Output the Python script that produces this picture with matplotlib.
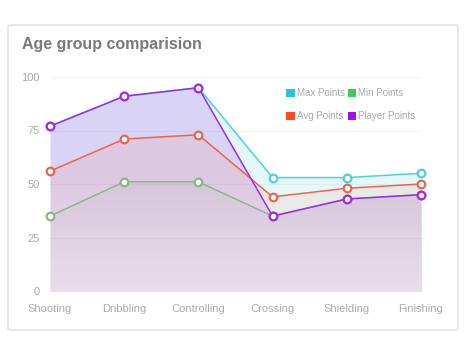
import numpy as np
import matplotlib.pyplot as plt
from matplotlib.patches import FancyBboxPatch, Patch

plt.rcParams['font.family'] = ['Liberation Sans', 'DejaVu Sans']

skills = ['Shooting', 'Dribbling', 'Controlling', 'Crossing', 'Shielding', 'Finishing']
max_points = [77, 91, 95, 53, 53, 55]
min_points = [35, 51, 51, 35, 43, 45]
avg_points = [56, 71, 73, 44, 48, 50]
player_points = [77, 91, 95, 35, 43, 45]
yticks = [0, 25, 50, 75, 100]

# name, values, line colour, legend colour, fill colour, fill alpha
series = [
    ('Max Points', max_points, '#4fd0e0', '#26c6da', '#4dd0e1', 0.15),
    ('Min Points', min_points, '#8fb48c', '#3ccf4e', '#96aa96', 0.10),
    ('Avg Points', avg_points, '#f0634a', '#ff4a1c', '#ff825a', 0.13),
    ('Player Points', player_points, '#9a2ee8', '#a010f0', '#c080f0', 0.30),
]
draw_order = [0, 3, 2, 1]

fig = plt.figure(figsize=(4.66, 3.55), dpi=100)
fig.patch.set_facecolor('white')

# card border
card = FancyBboxPatch((8 / 466, 1 - 330 / 355), 450 / 466, 305 / 355,
                      boxstyle='round,pad=0,rounding_size=0.005',
                      transform=fig.transFigure, facecolor='white',
                      edgecolor='#dddddd', linewidth=1, zorder=-5)
fig.patches.append(card)

fig.text(22 / 466, 1 - 44 / 355, 'Age group comparision', fontsize=11.5,
         fontweight='bold', color='#7a7a7a', va='center', ha='left')

ax = fig.add_axes([50 / 466, 1 - 291 / 355, 371 / 466, 214 / 355])
ax.set_facecolor('none')
x = list(range(len(skills)))

for i in draw_order:
    name, vals, line_c, _, fc, a = series[i]
    ax.fill_between(x, vals, 0, color=fc, alpha=a, linewidth=0, zorder=1)

# soft fade toward the bottom
grad = np.linspace(0, 1, 100).reshape(-1, 1)
fade = np.zeros((100, 1, 4))
fade[..., :3] = 1.0
fade[..., 3] = np.clip((55 - grad * 100) / 55, 0, 1) * 0.45
ax.imshow(fade, extent=(0, 5, 0, 100), origin='lower', aspect='auto',
          zorder=2, interpolation='bilinear')

for yt in yticks[1:]:
    ax.axhline(yt, color='black', alpha=0.045, linewidth=0.8, zorder=2.5)

for name, vals, line_c, _, _, _ in series:
    ax.plot(x, vals, color=line_c, linewidth=1.1, zorder=3,
            marker='o', markersize=5.5, markerfacecolor='white',
            markeredgecolor=line_c, markeredgewidth=1.6, clip_on=False)

ax.set_xlim(0, 5)
ax.set_ylim(0, 100)
ax.set_yticks(yticks)
ax.set_xticks(x)
ax.set_xticklabels(skills)
for s in ['top', 'right', 'left']:
    ax.spines[s].set_visible(False)
ax.spines['bottom'].set_color('#e6e6e6')
ax.tick_params(length=0, colors='#ababab', labelsize=8)
ax.tick_params(axis='x', pad=9)
ax.tick_params(axis='y', pad=7.5)

handles = [Patch(facecolor=s[3], edgecolor='none') for s in series]
labels = [s[0] for s in series]
order = [0, 2, 1, 3]
leg = ax.legend([handles[i] for i in order], [labels[i] for i in order],
                ncol=2, loc='upper left', bbox_to_anchor=(232 / 371, 0.965),
                frameon=False, fontsize=7, handlelength=0.9, handleheight=0.9,
                handletextpad=0.2, columnspacing=0.3, labelspacing=1.3,
                borderaxespad=0)
for t in leg.get_texts():
    t.set_color('#aaaaaa')

fig.savefig('out.png', dpi=100)
